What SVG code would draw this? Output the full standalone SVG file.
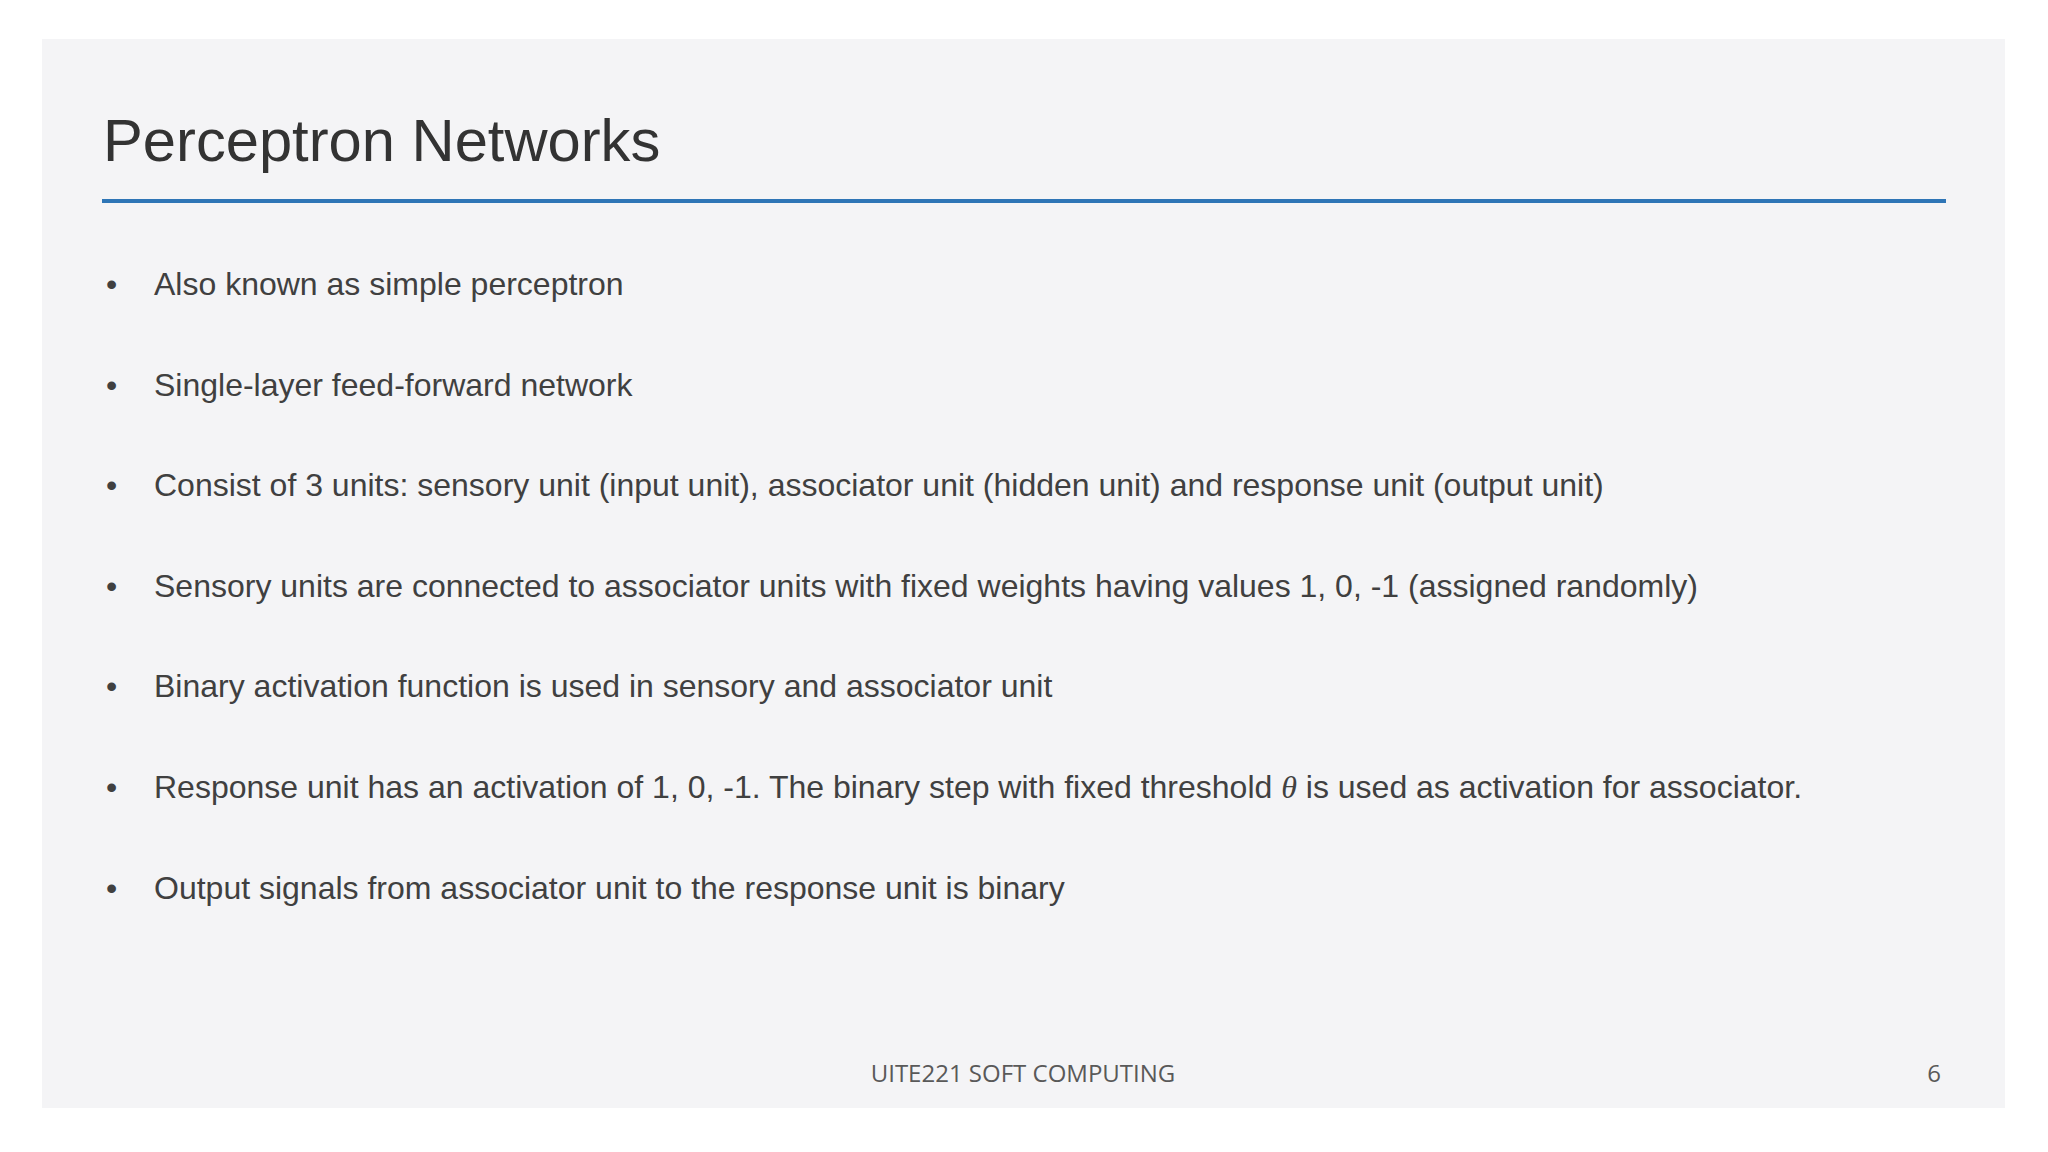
<svg xmlns="http://www.w3.org/2000/svg" width="2048" height="1152" viewBox="0 0 2048 1152">
<style>
.b{font-family:"Liberation Sans",Arial,sans-serif;font-size:32px;fill:#404040}
.f{font-family:"Open Sans","Noto Sans",sans-serif;font-size:24px;fill:#595959}
</style>
<rect width="2048" height="1152" fill="#ffffff"/>
<rect x="42" y="39" width="1963" height="1069" fill="#f4f4f6"/>
<text x="103" y="161" font-family="Liberation Sans,Arial,sans-serif" font-size="59.7" fill="#333333">Perceptron Networks</text>
<line x1="102" y1="201" x2="1946" y2="201" stroke="#2E75B6" stroke-width="4"/>
<g class="b">
<text x="106" y="295">•</text><text x="154" y="295">Also known as simple perceptron</text>
<text x="106" y="396">•</text><text x="154" y="396">Single-layer feed-forward network</text>
<text x="106" y="496">•</text><text x="154" y="496">Consist of 3 units: sensory unit (input unit), associator unit (hidden unit) and response unit (output unit)</text>
<text x="106" y="597">•</text><text x="154" y="597">Sensory units are connected to associator units with fixed weights having values 1, 0, -1 (assigned randomly)</text>
<text x="106" y="697">•</text><text x="154" y="697">Binary activation function is used in sensory and associator unit</text>
<text x="106" y="798">•</text><text x="154" y="798">Response unit has an activation of 1, 0, -1. The binary step with fixed threshold <tspan font-family="Liberation Serif,serif" font-style="italic">θ</tspan> is used as activation for associator.</text>
<text x="106" y="899">•</text><text x="154" y="899">Output signals from associator unit to the response unit is binary</text>
</g>
<text class="f" x="1023" y="1082" text-anchor="middle">UITE221 SOFT COMPUTING</text>
<text class="f" x="1941" y="1082" text-anchor="end">6</text>
</svg>
